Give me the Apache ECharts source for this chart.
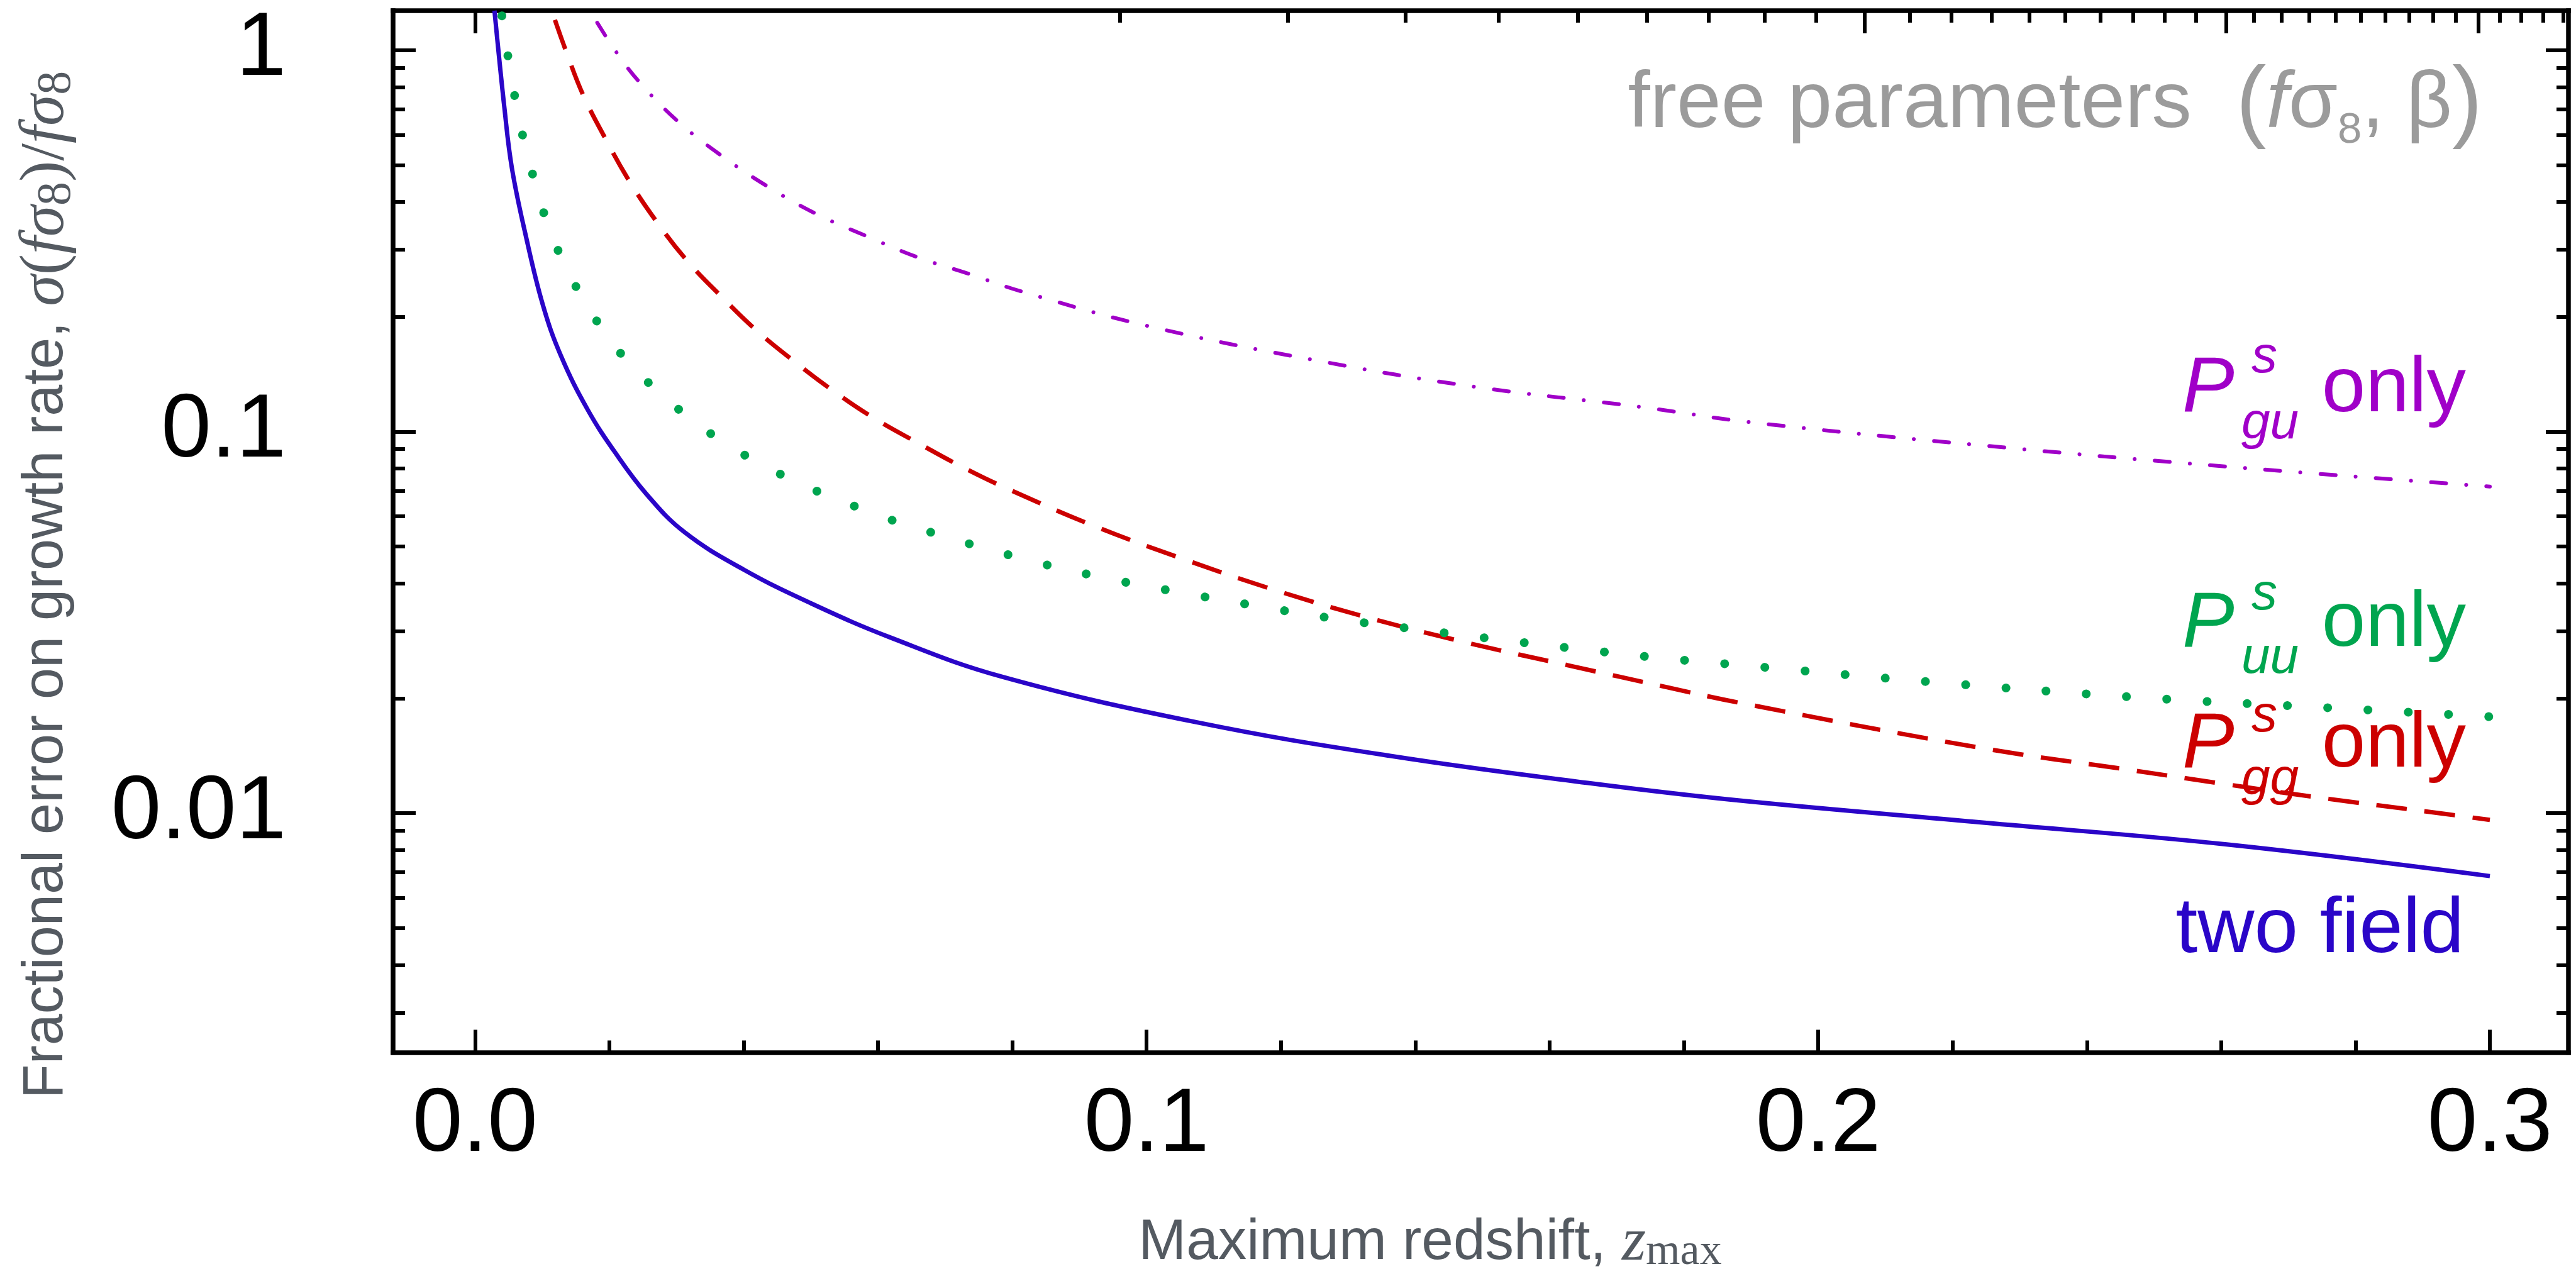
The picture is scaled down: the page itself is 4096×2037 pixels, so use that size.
<!DOCTYPE html>
<html>
<head>
  <meta charset="utf-8">
  <title>Fractional error on growth rate</title>
  <style>
    html, body { margin: 0; padding: 0; background: #fff; }
    #chart { width: 4096px; height: 2037px; }
  </style>
  <script src="https://cdn.jsdelivr.net/npm/echarts@6.0.0/dist/echarts.min.js"></script>
</head>
<body>
  <div id="chart"></div>
  <script>
    // axis ranges and ticks
    var zMin = -0.0122, zMax = 0.3117;
    var errMin = 0.00236, errMax = 1.269;
    var zMajor = [0, 0.1, 0.2, 0.3];
    var zMinor = [0.02, 0.04, 0.06, 0.08, 0.12, 0.14, 0.16, 0.18, 0.22, 0.24, 0.26, 0.28];
    // top axis: equal steps in survey volume (no labels)
    var volMajor = [0, 0.2069, 0.2607, 0.2983];
    var volMinor = [0.0960, 0.1210, 0.1385, 0.1524, 0.1642, 0.1745, 0.1837, 0.1920, 0.1997,
      0.2136, 0.2198, 0.2258, 0.2314, 0.2368, 0.2420, 0.2469, 0.2516, 0.2562,
      0.2649, 0.2690, 0.2731, 0.2770, 0.2808, 0.2844, 0.2880, 0.2915, 0.2949,
      0.3015, 0.3047, 0.3079, 0.3109];
    var errMajor = [0.01, 0.1, 1];
    var errMinor = [0.003, 0.004, 0.005, 0.006, 0.007, 0.008, 0.009,
      0.02, 0.03, 0.04, 0.05, 0.06, 0.07, 0.08, 0.09,
      0.2, 0.3, 0.4, 0.5, 0.6, 0.7, 0.8, 0.9];

    // curves: [z_max, sigma(f sigma8)/f sigma8]
    var twoField = [[0.0029, 1.27], [0.0044, 0.70], [0.0055, 0.49], [0.0075, 0.33], [0.0101, 0.215],
      [0.0128, 0.158], [0.0168, 0.114], [0.0209, 0.088], [0.0255, 0.0687], [0.0312, 0.0545],
      [0.04, 0.0435], [0.05, 0.0355], [0.062, 0.0288], [0.0784, 0.0228], [0.1075, 0.0173],
      [0.1366, 0.0141], [0.1657, 0.0120], [0.1881, 0.0108], [0.2245, 0.00945], [0.2608, 0.00828],
      [0.3, 0.00684]];
    var puuOnly = [[0.0040, 1.23], [0.0049, 0.965], [0.0059, 0.76], [0.0071, 0.597], [0.0086, 0.471],
      [0.0103, 0.372], [0.0125, 0.295], [0.0152, 0.237], [0.0183, 0.193], [0.0220, 0.158],
      [0.0261, 0.133], [0.0307, 0.113], [0.0355, 0.0977], [0.0407, 0.0857], [0.0461, 0.0764],
      [0.0516, 0.069], [0.0572, 0.0631], [0.0629, 0.058], [0.0803, 0.0471], [0.092, 0.042],
      [0.1039, 0.0382], [0.1157, 0.0351], [0.1277, 0.0324], [0.1397, 0.0304], [0.1518, 0.0286],
      [0.1638, 0.027], [0.1757, 0.0256], [0.1877, 0.0245], [0.2179, 0.022], [0.248, 0.0201],
      [0.2782, 0.0188], [0.3, 0.0179]];
    var pggOnly = [[0.0119, 1.2], [0.0135, 1.0], [0.0161, 0.763], [0.0194, 0.587], [0.0230, 0.453],
      [0.0272, 0.352], [0.0317, 0.279], [0.0368, 0.225], [0.0421, 0.183], [0.0477, 0.152],
      [0.0536, 0.127], [0.0596, 0.108], [0.066, 0.0933], [0.0725, 0.0809], [0.0791, 0.0711],
      [0.0923, 0.0565], [0.106, 0.046], [0.120, 0.038], [0.1337, 0.0323], [0.148, 0.0279],
      [0.1628, 0.0244], [0.1774, 0.0214], [0.1881, 0.0195], [0.2245, 0.0148], [0.2462, 0.0130],
      [0.2608, 0.0119], [0.276, 0.0109], [0.2906, 0.0101], [0.3, 0.0096]];
    var pguOnly = [[0.0182, 1.18], [0.0212, 0.979], [0.0244, 0.828], [0.0301, 0.653], [0.0367, 0.529],
      [0.0435, 0.44], [0.0507, 0.373], [0.0582, 0.326], [0.0658, 0.287], [0.0736, 0.259],
      [0.0814, 0.233], [0.1003, 0.189], [0.125, 0.154], [0.149, 0.131], [0.1737, 0.116],
      [0.1896, 0.106], [0.2245, 0.092], [0.2608, 0.081], [0.3, 0.0718]];

    var BLUE = '#2a05c8', GREEN = '#00a54f', RED = '#cc0000', PURPLE = '#a000c8';
    var GREY = '#545a61';
    var SANS = 'Liberation Sans', SERIF = 'Liberation Serif';

    function tickAxis(type, pos, min, max, ticks, len, main) {
      return {
        type: type, position: pos, min: min, max: max,
        axisLine: { show: main, onZero: false,
          lineStyle: { color: '#000', width: 7.5, cap: 'square' } },
        axisTick: { show: true, inside: true, length: len, customValues: ticks,
          lineStyle: { color: '#000', width: 6 } },
        axisLabel: { show: false },
        splitLine: { show: false }
      };
    }

    var xBottom = tickAxis('value', 'bottom', zMin, zMax, zMajor, 36, true);
    xBottom.axisLabel = { show: true, customValues: zMajor, margin: 46, fontSize: 143,
      fontFamily: SANS, color: '#000', formatter: function (v) { return v.toFixed(1); } };

    var yLeft = tickAxis('log', 'left', errMin, errMax, errMajor, 36, true);
    yLeft.axisLabel = { show: true, customValues: errMajor, margin: 170, fontSize: 143,
      fontFamily: SANS, color: '#000', formatter: function (v) { return String(+v.toPrecision(3)); } };

    function txt(x, y, text, size, color, align, italic) {
      return { type: 'text', x: x, y: y, z: 100, style: {
        text: text, fontSize: size, fontFamily: SANS, fontStyle: italic ? 'italic' : 'normal',
        fill: color, align: align, verticalAlign: 'middle' } };
    }

    var option = {
      animation: false,
      backgroundColor: '#fff',
      grid: { left: 625, right: 12, top: 17, bottom: 363.5, outerBoundsMode: 'none' },
      xAxis: [
        xBottom,
        tickAxis('value', 'bottom', zMin, zMax, zMinor, 19, false),
        tickAxis('value', 'top', zMin, zMax, volMajor, 36, true),
        tickAxis('value', 'top', zMin, zMax, volMinor, 19, false)
      ],
      yAxis: [
        yLeft,
        tickAxis('log', 'left', errMin, errMax, errMinor, 19, false),
        tickAxis('log', 'right', errMin, errMax, errMajor, 36, true),
        tickAxis('log', 'right', errMin, errMax, errMinor, 19, false)
      ],
      series: [
        { name: 'two field', type: 'line', data: twoField, symbol: 'none', smooth: 0.4,
          lineStyle: { color: BLUE, width: 7 } },
        { name: 'Pgg only', type: 'line', data: pggOnly, symbol: 'none', smooth: 0.4,
          lineStyle: { color: RED, width: 7, type: [49, 28] } },
        { name: 'Puu only', type: 'line', data: puuOnly, symbol: 'none', smooth: 0.4,
          lineStyle: { color: GREEN, width: 14, type: [0.1, 64], cap: 'round' } },
        { name: 'Pgu only', type: 'line', data: pguOnly, symbol: 'none', smooth: 0.4,
          lineStyle: { color: PURPLE, width: 6, type: [24, 32, 0.1, 32], cap: 'round' } }
      ],
      graphic: [
        { type: 'text', x: 74, y: 930, rotation: Math.PI / 2, z: 100, style: {
          text: '{a|Fractional error on growth rate, }{m|σ}{p|(}{m|fσ}{s|8}{p|)/}{m|fσ}{s|8}',
          align: 'center', verticalAlign: 'middle', fill: GREY,
          rich: {
            a: { fontFamily: SANS, fontSize: 90, lineHeight: 110, fill: GREY },
            m: { fontFamily: SERIF, fontStyle: 'italic', fontSize: 100, lineHeight: 110, fill: GREY },
            p: { fontFamily: SERIF, fontSize: 100, lineHeight: 110, fill: GREY },
            s: { fontFamily: SERIF, fontSize: 76, lineHeight: 45, verticalAlign: 'bottom', fill: GREY }
          } } },
        { type: 'text', x: 2274, y: 1977, z: 100, style: {
          text: '{a|Maximum redshift, }{z|z}{s|max}',
          align: 'center', verticalAlign: 'middle', fill: GREY,
          rich: {
            a: { fontFamily: SANS, fontSize: 91, lineHeight: 100, fill: GREY },
            z: { fontFamily: SERIF, fontStyle: 'italic', fontSize: 98, lineHeight: 100, fill: GREY },
            s: { fontFamily: SERIF, fontSize: 70, lineHeight: 35, verticalAlign: 'bottom', fill: GREY }
          } } },
        { type: 'text', x: 3947, y: 167, z: 100, style: {
          text: '{a|free parameters  }{p|(}{f|f}{a|σ}{s|8}{a|, β}{p|)}',
          align: 'right', verticalAlign: 'middle', fill: '#9b9b9b',
          rich: {
            a: { fontFamily: SANS, fontSize: 127, lineHeight: 150, fill: '#9b9b9b' },
            p: { fontFamily: SANS, fontSize: 144, lineHeight: 150, fill: '#9b9b9b' },
            f: { fontFamily: SANS, fontStyle: 'italic', fontSize: 127, lineHeight: 150, fill: '#9b9b9b' },
            s: { fontFamily: SANS, fontSize: 69, lineHeight: 64, verticalAlign: 'bottom', fill: '#9b9b9b' }
          } } },
        // curve labels
        txt(3470, 619, 'P', 124, PURPLE, 'left', true),
        txt(3580, 569, 's', 82, PURPLE, 'left', true),
        txt(3564, 674, 'gu', 82, PURPLE, 'left', true),
        txt(3921, 620, 'only', 125, PURPLE, 'right', false),
        txt(3470, 993, 'P', 124, GREEN, 'left', true),
        txt(3580, 946, 's', 82, GREEN, 'left', true),
        txt(3564, 1047, 'uu', 82, GREEN, 'left', true),
        txt(3921, 993, 'only', 125, GREEN, 'right', false),
        txt(3470, 1185, 'P', 124, RED, 'left', true),
        txt(3580, 1140, 's', 82, RED, 'left', true),
        txt(3564, 1240, 'gg', 82, RED, 'left', true),
        txt(3921, 1185, 'only', 125, RED, 'right', false),
        txt(3918, 1480, 'two field', 125, BLUE, 'right', false)
      ]
    };

    var chart = echarts.init(document.getElementById('chart'));
    chart.setOption(option);
  </script>
</body>
</html>
